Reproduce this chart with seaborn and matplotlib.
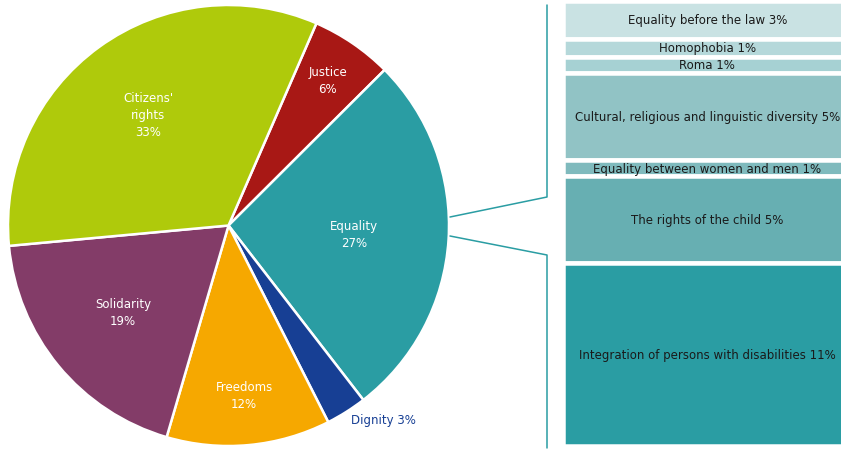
import matplotlib
matplotlib.use('Agg')
import matplotlib.pyplot as plt
import numpy as np
import seaborn as sns

# pie: main themes (share of total, %)
themes = ["Justice", "Equality", "Dignity", "Freedoms", "Solidarity", "Citizens'\nrights"]
theme_pct = [6, 27, 3, 12, 19, 33]
theme_colors = ['#A81815', '#2A9DA3', '#173F94', '#F6A800', '#833C68', '#AFCA0B']

# bar: breakdown of Equality (label %, and segment height)
eq_items = ['Equality before the law', 'Homophobia', 'Roma',
            'Cultural, religious and linguistic diversity',
            'Equality between women and men', 'The rights of the child',
            'Integration of persons with disabilities']
eq_label_pct = [3, 1, 1, 5, 1, 5, 11]
eq_height = [2.3, 1.05, 1.0, 5.2, 1.0, 5.2, 11.0]
eq_colors = ['#C9E2E3', '#B5D8DA', '#A6D1D3', '#91C3C5', '#7FBABD', '#67AFB2', '#2A9DA3']

sns.set_theme(style='white')
plt.rcParams['font.family'] = ['DejaVu Sans']

W, H = 841, 452
fig = plt.figure(figsize=(W / 100, H / 100), dpi=100)

# ---- pie
ax = fig.add_axes([8 / W, 5 / H, 441 / W, 441 / H])
wedges, _ = ax.pie(theme_pct, colors=theme_colors, startangle=66.5, counterclock=False,
                   wedgeprops=dict(edgecolor='white', linewidth=1.8))
ax.set_xlim(-1, 1)
ax.set_ylim(-1, 1)
ax.axis('off')

label_r = [0.80, 0.57, 1.04, 0.77, 0.62, 0.62]
for w, name, pct, r in zip(wedges, themes, theme_pct, label_r):
    mid = np.deg2rad((w.theta1 + w.theta2) / 2)
    x, y = r * np.cos(mid), r * np.sin(mid)
    if name == 'Dignity':
        ax.text(x, y, f'{name} {pct}%', color='#173F94', fontsize=8.5,
                ha='left', va='center')
    else:
        ax.text(x, y, f'{name}\n{pct}%', color='white', fontsize=8.5,
                ha='center', va='center', linespacing=1.4)

# ---- stacked bar for Equality
lw_px = 4.5
total = sum(eq_height)
bx0 = 565 - lw_px / 2
bx1 = 852
by0 = 4 - lw_px / 2
by1 = 445 + lw_px / 2
bax = fig.add_axes([bx0 / W, 1 - by1 / H, (bx1 - bx0) / W, (by1 - by0) / H])
bottoms = np.concatenate([[0], np.cumsum(eq_height)[:-1]])
bax.bar(np.zeros(len(eq_height)), eq_height, width=1, bottom=bottoms, align='edge',
        color=eq_colors, edgecolor='white', linewidth=lw_px * 72 / 100)
for name, pct, b, h in zip(eq_items, eq_label_pct, bottoms, eq_height):
    bax.text(0.5, b + h / 2, f'{name} {pct}%', ha='center', va='center',
             fontsize=8.5, color='#1a1a1a')
bax.set_xlim(0, 1)
bax.set_ylim(total, 0)
bax.axis('off')

# ---- connector lines (figure pixel space)
ov = fig.add_axes([0, 0, 1, 1], facecolor='none')
ov.set_xlim(0, W)
ov.set_ylim(H, 0)
ov.axis('off')
line_c = '#2A9DA3'
ov.plot([450, 547, 547], [218, 198, 6], color=line_c, lw=1.1)
ov.plot([450, 547, 547], [237, 256, 449], color=line_c, lw=1.1)

fig.savefig('out.png', dpi=100)
